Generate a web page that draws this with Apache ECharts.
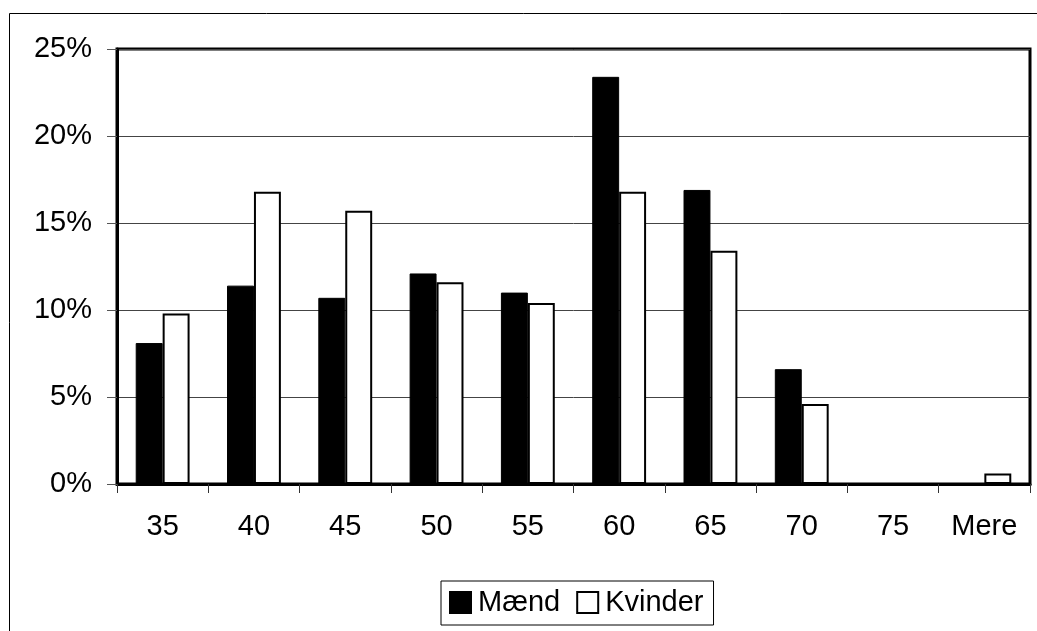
<!DOCTYPE html>
<html>
<head>
<meta charset="utf-8">
<script src="https://cdn.jsdelivr.net/npm/echarts@6/dist/echarts.min.js"></script>
<style>
html,body{margin:0;padding:0;background:#fff;}
#chart{width:1037px;height:631px;}
</style>
</head>
<body>
<div id="chart"></div>
<script>
const categories = ['35','40','45','50','55','60','65','70','75','Mere'];
const maend = [8.1, 11.4, 10.7, 12.1, 11.0, 23.4, 16.9, 6.6, 0, 0];
const kvinder = [9.8, 16.8, 15.7, 11.6, 10.4, 16.8, 13.4, 4.6, 0, 0.6];
const yTicks = [0, 5, 10, 15, 20, 25];

const FONT = '"Liberation Sans", Arial, sans-serif';
const FS = 29;
const chart = echarts.init(document.getElementById('chart'), null, {renderer: 'canvas'});
chart.setOption({
  animation: false,
  backgroundColor: '#fff',
  graphic: [{
    type: 'rect',
    shape: {x: 9.5, y: 13.5, width: 1100, height: 700},
    style: {fill: 'none', stroke: '#000', lineWidth: 1},
    silent: true, z: -1
  }],
  grid: {
    left: 117, top: 49, width: 913, height: 435,
    show: true, borderColor: '#000', borderWidth: 3, backgroundColor: 'transparent'
  },
  legend: {
    left: 441, top: 581,
    data: ['Mænd', 'Kvinder'],
    icon: 'rect',
    itemWidth: 21, itemHeight: 21, itemGap: 16,
    padding: [7, 10, 8, 8],
    borderColor: '#000', borderWidth: 1,
    textStyle: {fontFamily: FONT, fontSize: FS, color: '#000', padding: [0, 0, 0, 2]}
  },
  xAxis: {
    type: 'category',
    data: categories,
    axisLine: {show: true, lineStyle: {color: '#000', width: 3}},
    axisTick: {show: true, length: 9, lineStyle: {color: '#333', width: 1}},
    axisLabel: {fontFamily: FONT, fontSize: FS, color: '#000', margin: 28},
    splitLine: {show: false}
  },
  yAxis: {
    type: 'value',
    min: 0, max: 25, interval: 5,
    axisLine: {show: true, lineStyle: {color: '#000', width: 3}},
    axisTick: {show: true, length: 10, lineStyle: {color: '#555', width: 1}},
    axisLabel: {fontFamily: FONT, fontSize: FS, color: '#000', margin: 25,
      formatter: v => yTicks.indexOf(v) >= 0 ? v + '%' : ''},
    splitLine: {show: true, lineStyle: {color: '#444', width: 1}}
  },
  series: [{
    name: 'Mænd', type: 'bar', data: maend,
    barGap: '0%', barCategoryGap: '41%',
    itemStyle: {color: '#000', borderColor: '#000', borderWidth: 1}
  }, {
    name: 'Kvinder', type: 'bar', data: kvinder,
    barGap: '0%', barCategoryGap: '41%',
    itemStyle: {color: '#fff', borderColor: '#000', borderWidth: 2}
  }]
});
</script>
</body>
</html>
